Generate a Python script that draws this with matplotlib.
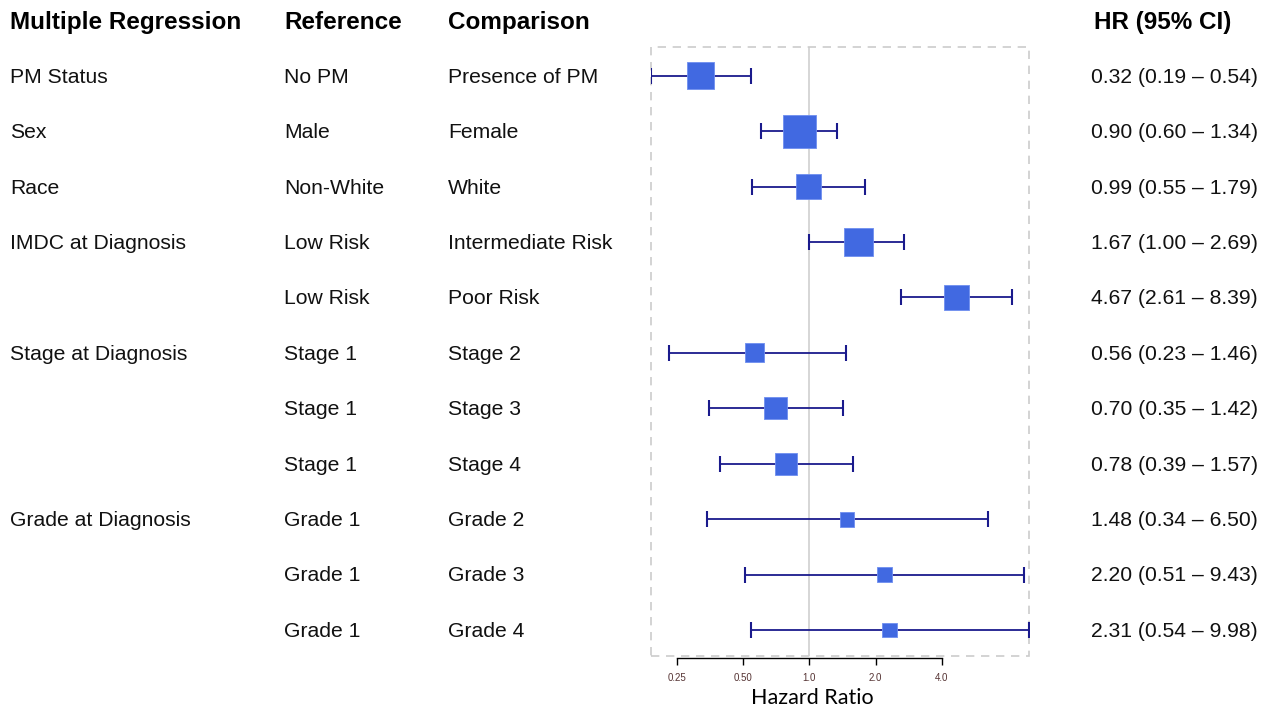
import numpy as np
import matplotlib
matplotlib.use("Agg")
import matplotlib.pyplot as plt
from matplotlib.patches import Rectangle
from matplotlib.transforms import blended_transform_factory


# Hazard ratios from the multiple regression model
variables = ["PM Status", "Sex", "Race", "IMDC at Diagnosis", "", "Stage at Diagnosis",
             "", "", "Grade at Diagnosis", "", ""]
reference = ["No PM", "Male", "Non-White", "Low Risk", "Low Risk", "Stage 1",
             "Stage 1", "Stage 1", "Grade 1", "Grade 1", "Grade 1"]
comparison = ["Presence of PM", "Female", "White", "Intermediate Risk", "Poor Risk",
              "Stage 2", "Stage 3", "Stage 4", "Grade 2", "Grade 3", "Grade 4"]
hr = [0.32, 0.90, 0.99, 1.67, 4.67, 0.56, 0.70, 0.78, 1.48, 2.20, 2.31]
lower = [0.19, 0.60, 0.55, 1.00, 2.61, 0.23, 0.35, 0.39, 0.34, 0.51, 0.54]
upper = [0.54, 1.34, 1.79, 2.69, 8.39, 1.46, 1.42, 1.57, 6.50, 9.43, 9.98]
ticks = [0.25, 0.50, 1.0, 2.0, 4.0]
tick_labels = ["0.25", "0.50", "1.0", "2.0", "4.0"]

plt.rcParams["font.family"] = ["Liberation Sans", "DejaVu Sans"]

W, H = 1270, 708
fig = plt.figure(figsize=(W / 100, H / 100), dpi=100)
ax = fig.add_axes([651 / W, 1 - 656 / H, 378 / W, 609 / H])

n = len(hr)
y = np.arange(n)
hr_a = np.array(hr)
lo_a = np.array(lower)
hi_a = np.array(upper)

# box size grows with precision (inverse of the CI width on log scale)
prec = 1 / np.log(hi_a / lo_a)
box_px = 7.9 + 20.2 * prec

ax.set_xscale("log")
ax.set_xlim(min(lower), max(upper))
ax.set_ylim(n - 1 + 0.47, -0.52)

ax.axvline(1.0, color="#d0d0d0", lw=1.2, zorder=1)
ax.hlines(y, lo_a, hi_a, color="#1a1a8c", lw=1.3, zorder=2)
ax.plot(lo_a, y, "|", color="#1a1a8c", ms=11, mew=1.5, zorder=2)
ax.plot(hi_a, y, "|", color="#1a1a8c", ms=11, mew=1.5, zorder=2)
ax.scatter(hr_a, y, marker="s", s=(box_px * 0.72) ** 2, color="#4169E1",
           edgecolor="#6f8ff0", linewidth=0.6, zorder=3)

# dashed frame around the plotting area
ax.add_patch(Rectangle((0, 0), 1, 1, transform=ax.transAxes, fill=False,
                       ls=(0, (5, 4)), ec="#cccccc", lw=1.2, clip_on=False))

for s in ["top", "left", "right"]:
    ax.spines[s].set_visible(False)
ax.spines["bottom"].set_position(("outward", 1.5))
ax.spines["bottom"].set_bounds(ticks[0], ticks[-1])
ax.spines["bottom"].set_linewidth(1.0)
ax.set_yticks([])
ax.set_xticks(ticks)
ax.set_xticklabels(tick_labels, fontsize=7, color="#553333")
ax.minorticks_off()
ax.tick_params(axis="x", length=5, width=1.0, pad=6)

fig.text(812 / W, 1 - 698 / H, "Hazard Ratio", ha="center", va="center",
         fontsize=15.5, family=["Lato", "DejaVu Sans"])

# table columns next to the plot (baseline sits a little below the row centre)
tr = blended_transform_factory(fig.transFigure, ax.transData)
col_x = [10 / W, 284 / W, 448 / W]
headers = ["Multiple Regression", "Reference", "Comparison"]
head_y = 1 - 29 / H
for cx, h in zip(col_x, headers):
    fig.text(cx, head_y, h, fontsize=17.5, fontweight="bold", va="baseline")
fig.text(1094 / W, head_y, "HR (95% CI)", fontsize=17.5, fontweight="bold", va="baseline")

row_off = 0.125
for i in range(n):
    for cx, col in zip(col_x, [variables, reference, comparison]):
        fig.text(cx, i + row_off, col[i], transform=tr, fontsize=15.2,
                 va="baseline", color="#111111")
    label = f"{hr[i]:.2f} ({lower[i]:.2f} \u2013 {upper[i]:.2f})"
    fig.text(1091 / W, i + row_off, label, transform=tr, fontsize=15.2,
             va="baseline", color="#111111")

fig.savefig("out.png", dpi=100)
